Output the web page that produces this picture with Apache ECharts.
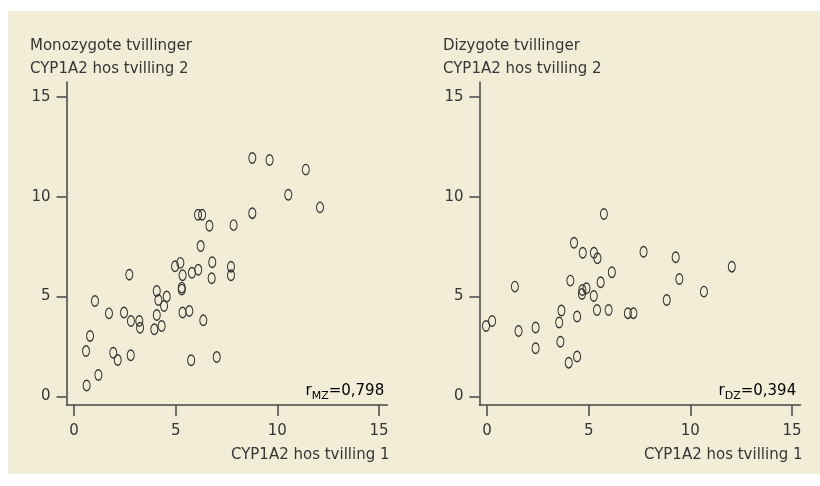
<!DOCTYPE html>
<html>
<head>
<meta charset="utf-8">
<script src="https://cdn.jsdelivr.net/npm/echarts@6/dist/echarts.min.js"></script>
<style>
html,body{margin:0;padding:0;background:#ffffff;}
#chart{width:820px;height:486px;}
</style>
</head>
<body>
<div id="chart"></div>
<script>
// Tick labels
const xTicks = [0, 5, 10, 15];
const yTicks = [0, 5, 10, 15];

// Panel texts
const panelTitles = ['Monozygote tvillinger', 'Dizygote tvillinger'];
const yAxisTitle = 'CYP1A2 hos tvilling 2';
const xAxisTitle = 'CYP1A2 hos tvilling 1';
const corrSub = ['MZ', 'DZ'];
const corrValues = ['0,798', '0,394'];

// Monozygote twins: [twin 1, twin 2]
const mzData = [
  [0.62, 0.55], [1.20, 1.07], [0.59, 2.27], [0.79, 3.03], [1.03, 4.78],
  [1.72, 4.16], [1.93, 2.19], [2.15, 1.82], [2.46, 4.20], [2.79, 2.06],
  [2.72, 6.10], [2.80, 3.78], [3.21, 3.78], [3.25, 3.44], [3.95, 3.36],
  [4.07, 4.08], [4.31, 3.53], [4.07, 5.28], [4.15, 4.83], [4.43, 4.53],
  [4.56, 5.00], [4.97, 6.52], [5.23, 6.69], [5.34, 6.07], [5.30, 5.45],
  [5.30, 5.35], [5.34, 4.20], [5.67, 4.28], [5.76, 1.81], [5.80, 6.19],
  [6.11, 6.34], [6.10, 9.10], [6.30, 9.10], [6.23, 7.53], [6.66, 8.55],
  [6.80, 6.72], [6.77, 5.92], [6.36, 3.81], [7.02, 1.97], [7.72, 6.50],
  [7.72, 6.07], [7.85, 8.58], [8.77, 9.18], [8.77, 11.94], [9.62, 11.84],
  [10.54, 10.10], [11.40, 11.36], [12.10, 9.47]
];

// Dizygote twins: [twin 1, twin 2]
const dzData = [
  [-0.05, 3.53], [0.25, 3.78], [1.37, 5.50], [1.55, 3.28], [2.39, 3.45],
  [2.39, 2.41], [3.55, 3.70], [3.66, 4.30], [3.61, 2.74], [4.02, 1.69],
  [4.43, 2.00], [4.43, 4.00], [4.10, 5.80], [4.28, 7.70], [4.71, 7.20],
  [4.69, 5.33], [4.89, 5.42], [4.67, 5.13], [5.25, 5.03], [5.26, 7.20],
  [5.43, 6.92], [5.59, 5.72], [5.41, 4.33], [5.98, 4.33], [5.75, 9.14],
  [6.14, 6.22], [6.93, 4.17], [7.20, 4.17], [7.70, 7.25], [8.84, 4.83],
  [9.28, 6.97], [9.46, 5.88], [10.67, 5.25], [12.04, 6.50]
];

const FONT = 'DejaVu Sans';
const TXT = '#363636';
const AX = '#454545';
const GRIDS = [
  {left: 66.5, top: 82, width: 321, height: 323},
  {left: 479.5, top: 82, width: 321, height: 323}
];

function xAxisFor(i) {
  return {
    gridIndex: i, type: 'value', min: -0.37, max: 15.42,
    axisLine: {show: true, onZero: false, lineStyle: {color: AX, width: 1.5}},
    axisTick: {show: true, length: 11, customValues: xTicks, lineStyle: {color: AX, width: 1.5}},
    axisLabel: {customValues: xTicks, margin: 19, fontFamily: FONT, fontSize: 15, color: TXT},
    splitLine: {show: false}
  };
}
function yAxisFor(i) {
  return {
    gridIndex: i, type: 'value', min: -0.43, max: 15.75,
    axisLine: {show: true, onZero: false, lineStyle: {color: AX, width: 1.5}},
    axisTick: {show: true, length: 10, customValues: yTicks, lineStyle: {color: AX, width: 1.5}},
    axisLabel: {customValues: yTicks, margin: 16, fontFamily: FONT, fontSize: 15, color: TXT},
    splitLine: {show: false}
  };
}
const ELLIPSE = 'path://M0,-1A1,1,0,1,1,0,1A1,1,0,1,1,0,-1Z';
function seriesFor(i, data) {
  return {
    type: 'scatter', xAxisIndex: i, yAxisIndex: i, data: data,
    symbol: ELLIPSE, symbolSize: [7, 10.5],
    itemStyle: {color: 'rgba(0,0,0,0)', borderColor: '#333333', borderWidth: 1.2, opacity: 1},
    emphasis: {disabled: true}, silent: true
  };
}

const graphics = [
  {type: 'rect', z: -10, silent: true, shape: {x: 8, y: 11, width: 812, height: 463}, style: {fill: '#f1edd6'}}
];
[0, 1].forEach(function (i) {
  const g = GRIDS[i];
  graphics.push({type: 'text', left: g.left - 36.5, top: 39, style: {text: panelTitles[i], font: '15px "' + FONT + '"', fill: TXT}});
  graphics.push({type: 'text', left: g.left - 36.5, top: 62, style: {text: yAxisTitle, font: '15px "' + FONT + '"', fill: TXT}});
  graphics.push({type: 'text', x: g.left + g.width + 2, y: 448, style: {text: xAxisTitle, font: '15px "' + FONT + '"', fill: TXT, align: 'right', verticalAlign: 'top'}});
  graphics.push({
    type: 'text', x: g.left + 239, y: 401.5,
    style: {
      text: '{a|r}{b|' + corrSub[i] + '}{a|=' + corrValues[i] + '}',
      verticalAlign: 'bottom', align: 'left',
      rich: {
        a: {fontFamily: FONT, fontSize: 15, color: TXT, verticalAlign: 'bottom', padding: [0, 0, 3, 0]},
        b: {fontFamily: FONT, fontSize: 11, color: TXT, verticalAlign: 'bottom', padding: [0, 0, 0, 0]}
      }
    }
  });
});

const chart = echarts.init(document.getElementById('chart'), null, {renderer: 'canvas'});
chart.setOption({
  animation: false,
  backgroundColor: '#ffffff',
  grid: GRIDS,
  xAxis: [xAxisFor(0), xAxisFor(1)],
  yAxis: [yAxisFor(0), yAxisFor(1)],
  series: [seriesFor(0, mzData), seriesFor(1, dzData)],
  graphic: graphics
});
</script>
</body>
</html>
